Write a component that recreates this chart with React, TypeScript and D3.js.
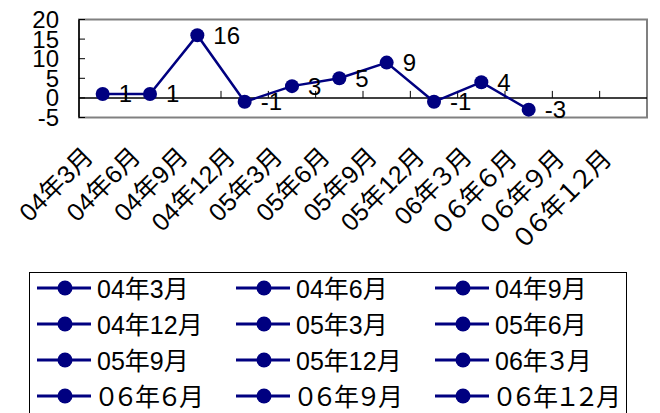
import React from 'react';
import * as d3 from 'd3';

// quarterly categories (full-width digits kept as in the source sheet)
const categories = [
  '04年3月', '04年6月', '04年9月', '04年12月',
  '05年3月', '05年6月', '05年9月', '05年12月',
  '06年３月', '０６年６月', '０６年９月', '０６年１２月',
];
const values: (number | null)[] = [1, 1, 16, -1, 3, 5, 9, -1, 4, -3, null, null];
const yTicks = [-5, 0, 5, 10, 15, 20];

const W = 660;
const H = 413;
const NAVY = '#000080';
const FONT = '"Liberation Sans", Arial, "Noto Sans CJK JP", sans-serif';

// full-width digits are drawn a bit tighter, like the original sheet font
const Label = ({ text }: { text: string }) => (
  <>
    {Array.from(text).map((ch, i) =>
      /[０-９]/.test(ch) ? (
        <tspan key={i} dx={-3} style={{ letterSpacing: '-3px' }}>
          {ch}
        </tspan>
      ) : (
        <tspan key={i}>{ch}</tspan>
      )
    )}
  </>
);

const App = () => {
  const x = d3.scaleBand<string>().domain(categories).range([79, 647]);
  const y = d3.scaleLinear().domain([-5, 20]).range([117.5, 19.5]);
  const cx = (c: string) => (x(c) as number) + x.bandwidth() / 2;

  const pts = categories
    .map((c, i) => ({ c, v: values[i] }))
    .filter((d) => d.v !== null) as { c: string; v: number }[];

  const line = d3
    .line<{ c: string; v: number }>()
    .x((d) => cx(d.c))
    .y((d) => y(d.v));

  const [x0, x1] = x.range();
  const [yb, yt] = y.range();

  const legendCols = [37, 236, 435];
  const legendRow0 = 288;
  const legendRowH = 36;

  return (
    <svg
      width={W}
      height={H}
      style={{ position: 'absolute', left: 0, top: 0, background: '#fff' }}
      fontFamily={FONT}
    >
      {/* plot frame */}
      <rect x={x0} y={yt} width={x1 - x0} height={yb - yt} fill="none" stroke="#808080" strokeWidth={2} />
      {/* y axis */}
      <line x1={x0} x2={x0} y1={yt} y2={yb} stroke="#000" strokeWidth={1.5} />
      {yTicks.map((t) => (
        <g key={t}>
          <line x1={x0} x2={x0 + 6} y1={y(t)} y2={y(t)} stroke="#000" strokeWidth={1} />
          <text x={59} y={y(t)} textAnchor="end" dominantBaseline="central" fontSize={24}>
            {t}
          </text>
        </g>
      ))}
      {/* zero line with category ticks */}
      <line x1={x0} x2={x1} y1={y(0)} y2={y(0)} stroke="#000" strokeWidth={1.5} />
      {categories.map((c, i) =>
        i === 0 ? null : (
          <line key={c} x1={x(c)} x2={x(c)} y1={y(0) - 7} y2={y(0)} stroke="#000" strokeWidth={1} />
        )
      )}
      {/* category labels */}
      {categories.map((c) => (
        <text
          key={c}
          transform={`translate(${cx(c) - 8},${158}) rotate(-45)`}
          textAnchor="end"
          fontSize={25}
        >
          <Label text={c} />
        </text>
      ))}
      {/* series */}
      <path d={line(pts) || ''} fill="none" stroke={NAVY} strokeWidth={2.5} />
      {pts.map((d) => (
        <circle key={d.c} cx={cx(d.c)} cy={y(d.v)} r={7} fill={NAVY} />
      ))}
      {pts.map((d) => (
        <text key={d.c} x={cx(d.c) + 16} y={y(d.v)} dominantBaseline="central" fontSize={24}>
          {d.v}
        </text>
      ))}
      {/* legend */}
      <rect x={29.5} y={272.5} width={597} height={160} fill="#fff" stroke="#000" strokeWidth={1} />
      {categories.map((c, i) => {
        const lx = legendCols[i % 3];
        const ly = legendRow0 + Math.floor(i / 3) * legendRowH;
        return (
          <g key={c}>
            <line x1={lx} x2={lx + 54} y1={ly} y2={ly} stroke={NAVY} strokeWidth={3} />
            <circle cx={lx + 28} cy={ly} r={7.5} fill={NAVY} />
            <text x={lx + 60} y={ly + 1} dominantBaseline="central" fontSize={25}>
              <Label text={c} />
            </text>
          </g>
        );
      })}
    </svg>
  );
};

export default App;
